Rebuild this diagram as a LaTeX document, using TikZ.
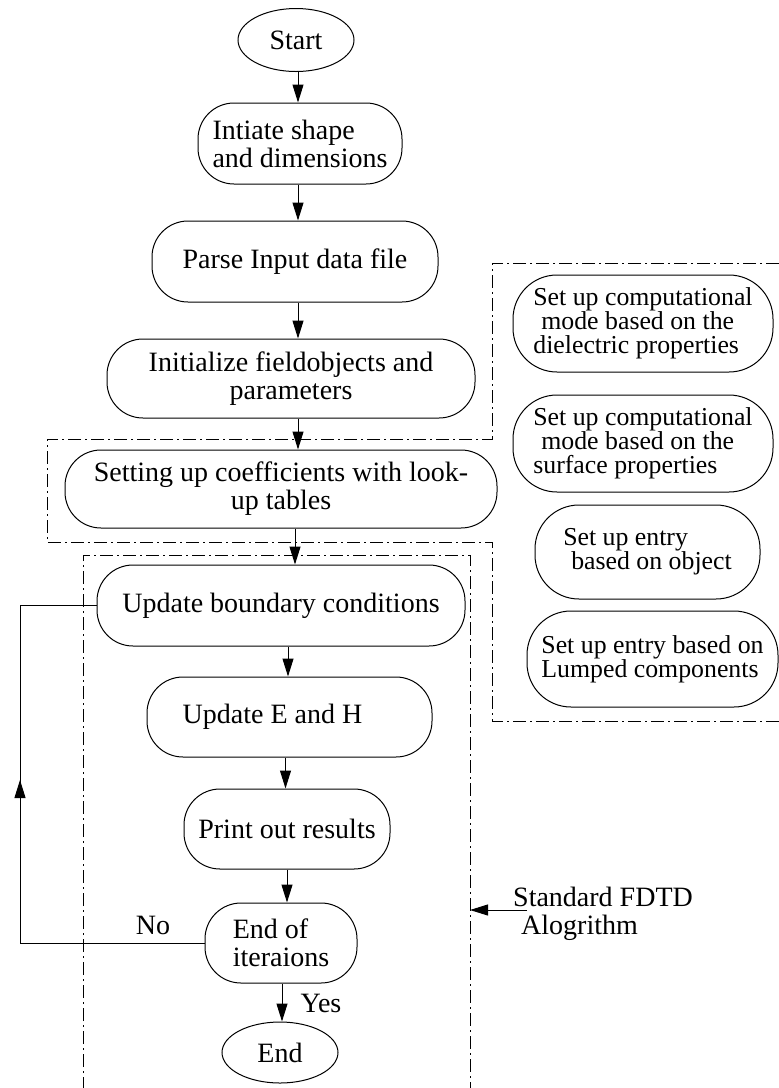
\documentclass[tikz,border=0pt]{standalone}
\usepackage{fontspec}
\setmainfont{Liberation Serif}
\usetikzlibrary{shapes.geometric,arrows.meta}
\begin{document}
\begin{tikzpicture}[x=1pt,y=-1pt,
  every node/.style={font=\fontsize{28}{28}\selectfont, inner sep=0pt},
  term/.style={draw, ellipse, line width=1pt, minimum width=116pt, minimum height=63pt},
  proc/.style={draw, rounded corners=36pt, line width=1pt, align=center},
  side/.style={draw, rounded corners=44pt, line width=1pt, align=left, font=\fontsize{25.8}{24}\selectfont},
  arr/.style={line width=1pt, -{Triangle[length=18pt,width=11pt]}},
  link/.style={line width=1pt},
  frame/.style={line width=1pt, dash pattern=on 13pt off 4pt on 2pt off 4pt},
  lbl/.style={align=left}
]
\useasboundingbox (0,0) rectangle (779,1088);

% main column
\node[term] (start) at (296,40) {Start};
\node[proc, minimum width=204pt, minimum height=81pt, align=left] (init) at (300,143.5) {Intiate shape\\and dimensions};
\node[proc, minimum width=286pt, minimum height=81pt] (parse) at (295,261.5) {Parse Input data file};
\node[proc, minimum width=368pt, minimum height=79pt] (field) at (291,378.5) {Initialize fieldobjects and\\parameters};
\node[proc, minimum width=432pt, minimum height=78pt] (coef) at (281,489) {Setting up coefficients with look-\\up tables};
\node[proc, minimum width=368pt, minimum height=81pt] (bound) at (281,605.5) {Update boundary conditions};
\node[proc, minimum width=285pt, minimum height=80pt] (eh) at (289.5,717) {Update E and H\hspace*{34pt}};
\node[proc, minimum width=206pt, minimum height=80pt] (print) at (287,829) {Print out results};
\node[proc, minimum width=152pt, minimum height=80pt, align=left] (iter) at (281,943) {End of\\iteraions};
\node[term, minimum height=61pt] (end) at (280,1052.5) {End};

% side boxes
\node[side, minimum width=260pt, minimum height=97pt] (r1) at (643,323.5) {Set up computational\\\hspace*{8pt}mode based on the\\dielectric properties};
\node[side, minimum width=260pt, minimum height=97pt] (r2) at (643,443.5) {Set up computational\\\hspace*{8pt}mode based on the\\surface properties};
\node[side, minimum width=225pt, minimum height=94pt] (r3) at (647.5,552) {Set up entry\\\hspace*{8pt}based on object};
\node[side, minimum width=251pt, minimum height=96pt] (r4) at (652.5,659) {Set up entry based on\\Lumped components};

% frames
\draw[frame] (779,263) -- (492,263) -- (492,439) -- (47,439) -- (47,542) -- (492,542) -- (492,721) -- (779,721);
\draw[frame] (83,1090) -- (83,555) -- (470,555) -- (470,1090);

% arrows
\draw[arr] ([xshift=2pt]start.south) -- ([xshift=2pt]start.south |- init.north);
\draw[arr] ([xshift=-2pt]init.south) -- ([xshift=-2pt]init.south |- parse.north);
\draw[arr] ([xshift=3pt]parse.south) -- ([xshift=3pt]parse.south |- field.north);
\draw[arr] ([xshift=7pt]field.south) -- ([xshift=7pt]field.south |- coef.north);
\draw[arr] ([xshift=14pt]coef.south) -- ([xshift=14pt]coef.south |- bound.north);
\draw[arr] ([xshift=7pt]bound.south) -- ([xshift=7pt]bound.south |- eh.north);
\draw[arr] ([xshift=-4pt]eh.south) -- ([xshift=-4pt]eh.south |- print.north);
\draw[arr] (print.south) -- (print.south |- iter.north);
\draw[arr] ([xshift=1pt]iter.south) -- ([xshift=1pt]iter.south |- end.north);

% loop back
\coordinate (lb) at (20,943);
\coordinate (lt) at (20,605.5);
\coordinate (lm) at (20,780);
\draw[link] (iter.west) -- (lb) -- (lt) -- (bound.west);
\draw[arr] (lb) -- (lm);

% labels
\node (no) at (153,925) {No};
\node (yes) at (321,1003) {Yes};
\node[lbl, anchor=west] (std) at (513,914) {Standard FDTD\\\hspace*{8pt}Alogrithm};
\coordinate (fds) at (527,910);
\coordinate (fde) at (470,910);
\draw[arr] (fds) -- (fde);
\end{tikzpicture}
\end{document}
